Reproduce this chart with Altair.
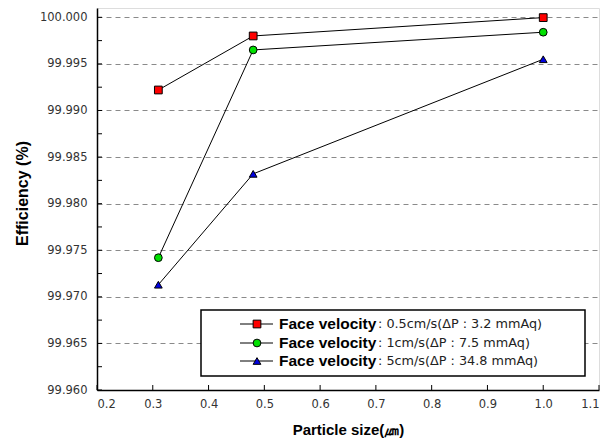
import altair as alt
import pandas as pd

# ---- data ----
sizes = [0.31, 0.48, 1.0]
eff_05 = [99.9922, 99.9980, 99.99997]
eff_1 = [99.9742, 99.9965, 99.9984]
eff_5 = [99.9713, 99.9832, 99.9955]

series_keys = ["v05", "v1", "v5"]
legend_rest = [": 0.5cm/s(ΔP : 3.2 mmAq)", ": 1cm/s(ΔP : 7.5 mmAq)", ": 5cm/s(ΔP : 34.8 mmAq)"]
legend_bold = "Face velocity"
shapes = ["square", "circle", "triangle-up"]
fills = ["#ff0000", "#00e000", "#0000e0"]

y_major = [99.960, 99.965, 99.970, 99.975, 99.980, 99.985, 99.990, 99.995, 100.000]
y_minor = [99.9625, 99.9675, 99.9725, 99.9775, 99.9825, 99.9875, 99.9925, 99.9975]
x_major = [0.2, 0.3, 0.4, 0.5, 0.6, 0.7, 0.8, 0.9, 1.0, 1.1]

rows = []
for key, vals in zip(series_keys, [eff_05, eff_1, eff_5]):
    for s, v in zip(sizes, vals):
        rows.append({"size": s, "eff": v, "series": key})
df = pd.DataFrame(rows)

W, H = 502, 382
LABEL_FONT = "DejaVu Sans"
BOLD_FONT = "Liberation Sans"

xscale = alt.Scale(domain=[0.2, 1.1], nice=False, zero=False)
yscale = alt.Scale(domain=[99.96, 100.001], nice=False, zero=False)

x_enc = alt.X(
    "size:Q", scale=xscale,
    axis=alt.Axis(values=x_major, format=".1f", grid=False, ticks=False, tickSize=0,
                  labelPadding=8, labelFont=LABEL_FONT, labelFontSize=11.5, labelColor="#333",
                  domainColor="black", domainWidth=1.5,
                  title="Particle size(㎛)", titleFont=BOLD_FONT, titleFontSize=15,
                  titleFontWeight="bold", titleColor="black", titleY=39, titleBaseline="middle"),
)
y_enc = alt.Y(
    "eff:Q", scale=yscale,
    axis=alt.Axis(values=y_major, format=".3f", grid=True, gridDash=[5, 4], gridColor="#8a8a8a",
                  gridWidth=1, ticks=False, tickSize=0, labelPadding=10,
                  labelFont=LABEL_FONT, labelFontSize=11.5, labelColor="#333",
                  domainColor="black", domainWidth=1.5,
                  title="Efficiency (%)", titleFont=BOLD_FONT, titleFontSize=16,
                  titleFontWeight="bold", titleColor="black", titleX=-75, titleY=H / 2 - 6,
                  titleBaseline="middle", titleAlign="center", titleAngle=-90),
)

color_scale = alt.Scale(domain=series_keys, range=fills)
shape_scale = alt.Scale(domain=series_keys, range=shapes)

lines = alt.Chart(df).mark_line(color="black", strokeWidth=1).encode(
    x=x_enc, y=y_enc, detail="series:N"
)
points = alt.Chart(df).mark_point(filled=True, stroke="black", strokeWidth=1, size=60, opacity=1).encode(
    x=alt.X("size:Q", scale=xscale),
    y=alt.Y("eff:Q", scale=yscale),
    fill=alt.Fill("series:N", scale=color_scale, legend=None),
    shape=alt.Shape("series:N", scale=shape_scale, legend=None),
)

# inward ticks
ytick_df = pd.DataFrame({"v": y_major + y_minor})
yticks = alt.Chart(ytick_df).mark_rule(color="black", strokeWidth=1).encode(
    y=alt.Y("v:Q", scale=yscale), x=alt.value(0), x2=alt.value(5)
)
xtick_df = pd.DataFrame({"v": x_major})
xticks = alt.Chart(xtick_df).mark_rule(color="black", strokeWidth=1).encode(
    x=alt.X("v:Q", scale=xscale), y=alt.value(H - 5), y2=alt.value(H)
)

# custom legend
one = pd.DataFrame({"a": [0]})
legend_layers = [
    alt.Chart(one).mark_rect(fill="white", stroke="black", strokeWidth=1.5).encode(
        x=alt.value(104), x2=alt.value(488), y=alt.value(302), y2=alt.value(368)
    )
]
row_y = [316, 335, 353]
for i in range(3):
    yy = row_y[i]
    legend_layers.append(
        alt.Chart(one).mark_rule(color="black", strokeWidth=1).encode(
            x=alt.value(143), x2=alt.value(176), y=alt.value(yy)
        )
    )
    legend_layers.append(
        alt.Chart(one).mark_point(filled=True, shape=shapes[i], fill=fills[i], stroke="black",
                                  strokeWidth=1, size=60, opacity=1).encode(
            x=alt.value(160), y=alt.value(yy)
        )
    )
    legend_layers.append(
        alt.Chart(pd.DataFrame({"t": [legend_bold]})).mark_text(
            font=BOLD_FONT, fontSize=15.5, fontWeight="bold", align="left", baseline="middle",
            color="black"
        ).encode(x=alt.value(182), y=alt.value(yy), text="t:N")
    )
    legend_layers.append(
        alt.Chart(pd.DataFrame({"t": [legend_rest[i]]})).mark_text(
            font=LABEL_FONT, fontSize=12.8, align="left", baseline="middle", color="#222"
        ).encode(x=alt.value(281), y=alt.value(yy), text="t:N")
    )

chart = alt.layer(lines, points, yticks, xticks, *legend_layers).properties(
    width=W, height=H,
    autosize=alt.AutoSizeParams(type="none"),
    padding={"left": 89, "top": 0, "right": 5, "bottom": 50},
).configure_view(stroke="black", strokeWidth=1.5).configure(background="white")

chart.save("out.html", embed_options={"renderer": "svg", "actions": False})
